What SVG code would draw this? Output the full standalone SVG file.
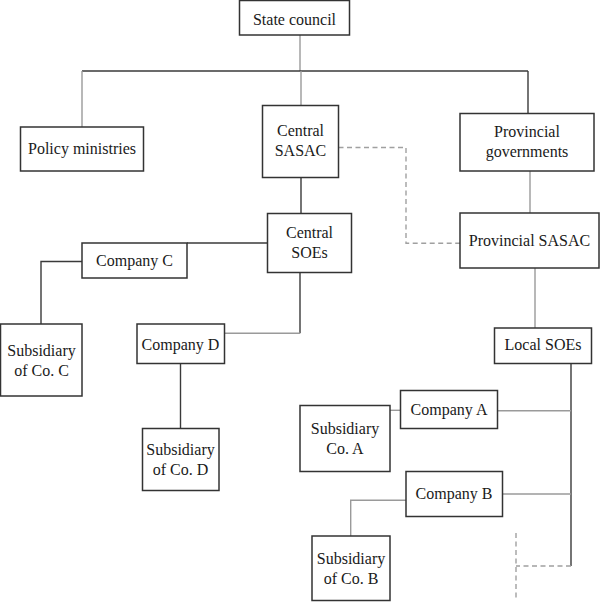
<svg xmlns="http://www.w3.org/2000/svg" width="600" height="602" viewBox="0 0 600 602">
<style>
.box{fill:#fff;stroke:#333;stroke-width:1.5}
.t{font-family:"Liberation Serif","Times New Roman",serif;font-size:16px;fill:#1a1a1a;text-anchor:middle}
.dk{fill:none;stroke:#3a3a3a;stroke-width:1.4}
.gr{fill:none;stroke:#9a9a9a;stroke-width:1.4}
.ds{fill:none;stroke:#a0a0a0;stroke-width:1.4;stroke-dasharray:5 3.5}
</style>
<rect width="600" height="602" fill="#fff"/>
<g id="connectors">
<path class="gr" d="M300 35V71"/>
<path class="dk" d="M82 71H528"/>
<path class="gr" d="M82 71V127"/>
<path class="gr" d="M301 71V105.5"/>
<path class="dk" d="M528 71V113.5"/>
<path class="ds" d="M338.5 147.5H406V243.3H460"/>
<path class="gr" d="M530 171V213"/>
<path class="dk" d="M301 177.5V213.5"/>
<path class="dk" d="M187 243H267.5"/>
<path class="dk" d="M82 261.5H41V324"/>
<path class="dk" d="M300 272.5V333.3"/>
<path class="gr" d="M300 333.3H224.5"/>
<path class="dk" d="M180.5 363.5V428.5"/>
<path class="gr" d="M535 268V328"/>
<path class="dk" d="M571 363.5V566"/>
<path class="gr" d="M497.5 410.7H571"/>
<path class="gr" d="M390 410.3H400.5"/>
<path class="gr" d="M502.5 494H571"/>
<path class="gr" d="M406 500.3H350.7V536"/>
<path class="ds" d="M571 566H516"/>
<path class="ds" d="M516 533V598"/>
</g>
<g id="state-council"><rect class="box" x="239.5" y="0.5" width="110" height="34.5"/><text class="t" x="294.5" y="25">State council</text></g>
<g id="policy-ministries"><rect class="box" x="20.5" y="127" width="123" height="44"/><text class="t" x="82" y="154">Policy ministries</text></g>
<g id="central-sasac"><rect class="box" x="262.5" y="105.5" width="76" height="72"/><text class="t" x="300.5" y="136">Central</text><text class="t" x="300.5" y="156">SASAC</text></g>
<g id="provincial-governments"><rect class="box" x="460" y="113.5" width="134" height="57.5"/><text class="t" x="527" y="137">Provincial</text><text class="t" x="527" y="157">governments</text></g>
<g id="provincial-sasac"><rect class="box" x="460" y="213" width="139" height="55"/><text class="t" x="529.5" y="246">Provincial SASAC</text></g>
<g id="central-soes"><rect class="box" x="267.5" y="213.5" width="84" height="59"/><text class="t" x="309.5" y="238">Central</text><text class="t" x="309.5" y="258">SOEs</text></g>
<g id="company-c"><rect class="box" x="82" y="243" width="105" height="35"/><text class="t" x="134.5" y="266">Company C</text></g>
<g id="subsidiary-c"><rect class="box" x="0.5" y="324" width="81.5" height="72"/><text class="t" x="41.5" y="356">Subsidiary</text><text class="t" x="41.5" y="376">of Co. C</text></g>
<g id="company-d"><rect class="box" x="137" y="324" width="87.5" height="39.5"/><text class="t" x="180.5" y="350">Company D</text></g>
<g id="subsidiary-d"><rect class="box" x="142.5" y="428.5" width="76.5" height="62"/><text class="t" x="180.5" y="455">Subsidiary</text><text class="t" x="180.5" y="475">of Co. D</text></g>
<g id="local-soes"><rect class="box" x="494.5" y="328" width="97" height="35.5"/><text class="t" x="543" y="350">Local SOEs</text></g>
<g id="company-a"><rect class="box" x="400.5" y="390.5" width="97" height="38"/><text class="t" x="449" y="415">Company A</text></g>
<g id="subsidiary-a"><rect class="box" x="300" y="405.5" width="90" height="66"/><text class="t" x="345" y="433.5">Subsidiary</text><text class="t" x="345" y="454">Co. A</text></g>
<g id="company-b"><rect class="box" x="406" y="471.5" width="96.5" height="45"/><text class="t" x="454" y="499">Company B</text></g>
<g id="subsidiary-b"><rect class="box" x="312" y="536" width="78" height="64.5"/><text class="t" x="351" y="563.5">Subsidiary</text><text class="t" x="351" y="583.5">of Co. B</text></g>
</svg>
